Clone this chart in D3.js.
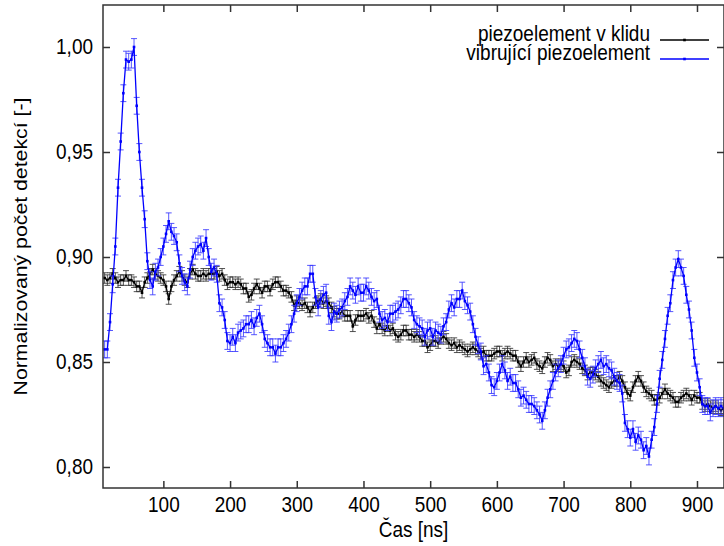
<!DOCTYPE html>
<html>
<head>
<meta charset="utf-8">
<script src="https://cdn.jsdelivr.net/npm/d3@7"></script>
<style>
  body { margin: 0; background: #fff; }
  text { font-family: "Liberation Sans", Arial, sans-serif; fill: #000; }
</style>
</head>
<body>
<div id="chart"></div>
<script>
// time bins (ns): first bin and bin width
const timeStart = 12;
const timeStep = 4;

// piezoelement v klidu
const restValues = [
  0.890,0.889,0.890,0.892,0.890,0.888,0.889,0.889,0.891,0.889,0.889,0.888,
  0.886,0.886,0.883,0.888,0.890,0.892,0.894,0.892,0.891,0.890,0.889,0.886,
  0.880,0.886,0.889,0.891,0.893,0.891,0.889,0.888,0.892,0.894,0.892,0.891,
  0.891,0.892,0.891,0.892,0.892,0.892,0.893,0.891,0.892,0.889,0.887,0.888,
  0.888,0.887,0.888,0.887,0.885,0.885,0.881,0.882,0.885,0.887,0.885,0.883,
  0.886,0.886,0.884,0.887,0.888,0.888,0.886,0.884,0.884,0.883,0.881,0.877,
  0.879,0.878,0.877,0.878,0.876,0.874,0.876,0.878,0.879,0.880,0.878,0.879,
  0.878,0.876,0.874,0.873,0.873,0.874,0.872,0.872,0.872,0.867,
  0.870,0.872,0.872,0.872,0.873,0.871,0.872,0.869,0.866,0.868,0.866,0.865,
  0.867,0.865,0.866,0.863,0.862,0.863,0.865,0.865,0.863,0.863,0.862,0.863,
  0.862,0.860,0.860,0.857,0.858,0.860,0.860,0.859,0.861,0.862,0.861,0.859,
  0.858,0.859,0.857,0.858,0.857,0.856,0.855,0.856,0.857,0.856,0.855,0.854,
  0.855,0.853,0.853,0.853,0.854,0.855,0.855,0.853,0.854,0.855,0.854,0.853,
  0.853,0.850,0.848,0.850,0.852,0.850,0.851,0.852,0.849,0.848,0.847,0.850,
  0.852,0.851,0.848,0.849,0.848,0.849,0.848,0.845,0.846,0.850,0.851,0.850,
  0.849,0.847,0.846,0.844,0.845,0.845,0.844,0.843,0.841,0.840,
  0.839,0.838,0.840,0.841,0.841,0.843,0.841,0.838,0.835,0.834,0.838,0.841,
  0.843,0.841,0.838,0.836,0.835,0.834,0.832,0.832,0.833,0.835,0.837,0.835,
  0.834,0.833,0.831,0.831,0.833,0.834,0.835,0.834,0.832,0.834,0.833,0.833,
  0.830,0.829,0.830,0.829,0.828,0.829,0.828,0.827,0.828
];

// vibrující piezoelement
const vibValues = [
  0.856,0.856,0.869,0.887,0.905,0.933,0.955,0.978,0.994,0.993,0.994,1.000,
  0.972,0.950,0.933,0.918,0.898,0.889,0.886,0.893,0.895,0.900,0.905,0.911,
  0.917,0.912,0.910,0.907,0.897,0.891,0.888,0.886,0.894,0.900,0.903,0.905,
  0.906,0.903,0.909,0.900,0.893,0.895,0.892,0.878,0.876,0.870,0.860,0.859,
  0.862,0.859,0.864,0.865,0.866,0.868,0.868,0.870,0.867,0.871,0.873,0.868,
  0.861,0.859,0.857,0.857,0.854,0.857,0.857,0.859,0.861,0.864,0.868,0.873,
  0.878,0.881,0.884,0.886,0.886,0.892,0.892,0.881,0.876,0.880,0.882,0.883,
  0.872,0.869,0.874,0.873,0.875,0.876,0.879,0.881,0.886,0.884,
  0.882,0.886,0.883,0.883,0.886,0.884,0.881,0.879,0.880,0.873,0.870,0.871,
  0.869,0.873,0.873,0.874,0.875,0.877,0.880,0.880,0.878,0.876,0.870,0.868,
  0.867,0.866,0.862,0.865,0.866,0.862,0.865,0.864,0.863,0.867,0.869,0.875,
  0.878,0.876,0.880,0.880,0.884,0.879,0.877,0.874,0.868,0.862,0.858,0.855,
  0.848,0.849,0.845,0.839,0.838,0.841,0.845,0.849,0.846,0.841,0.843,0.840,
  0.840,0.837,0.833,0.834,0.832,0.830,0.830,0.829,0.827,0.825,0.822,0.827,
  0.833,0.837,0.841,0.845,0.847,0.849,0.853,0.856,0.857,0.859,0.861,0.860,
  0.856,0.852,0.848,0.843,0.842,0.844,0.847,0.849,0.851,0.848,
  0.849,0.847,0.846,0.843,0.841,0.840,0.835,0.821,0.818,0.814,0.818,0.812,
  0.815,0.813,0.808,0.810,0.805,0.813,0.819,0.830,0.842,0.851,0.861,0.872,
  0.878,0.889,0.895,0.899,0.895,0.891,0.882,0.875,0.865,0.852,0.845,0.838,
  0.830,0.829,0.829,0.826,0.828,0.829,0.828,0.829,0.828
];

const restErr = 0.0025;
const vibErr = 0.004;

const xTicks = [100, 200, 300, 400, 500, 600, 700, 800, 900];
const yTicks = [0.80, 0.85, 0.90, 0.95, 1.00];
const seriesNames = ["piezoelement v klidu", "vibrující piezoelement"];
const seriesColors = ["#000000", "#0000ff"];
const errColors = ["#333333", "#3a3aff"];

const width = 724, height = 546;
const plot = { left: 103, right: 724, top: 5, bottom: 488 };
const fontSize = 19, stretchY = 1.12;

const svg = d3.select("#chart").append("svg")
  .attr("width", width).attr("height", height);

const x = d3.scaleLinear().domain([9.5, 940.5]).range([plot.left, plot.right]);
const y = d3.scaleLinear().domain([0.79, 1.02]).range([plot.bottom, plot.top]);

const fmt = (d) => d3.format(".2f")(d).replace(".", ",");

// tall glyphs, like the original terminal font
function stretch(sel) {
  sel.each(function () {
    const t = d3.select(this);
    const tx = +t.attr("x") || 0, ty = +t.attr("y") || 0;
    t.attr("transform", `translate(${tx},${ty}) scale(1,${stretchY}) translate(${-tx},${-ty})`);
  });
}

const series = [restValues, vibValues].map((vals, k) => ({
  name: seriesNames[k],
  color: seriesColors[k],
  errColor: errColors[k],
  err: k === 0 ? restErr : vibErr,
  points: vals.map((v, i) => ({ t: timeStart + i * timeStep, v }))
}));

svg.append("defs").append("clipPath").attr("id", "clip")
  .append("rect")
  .attr("x", plot.left).attr("y", plot.top)
  .attr("width", plot.right - plot.left).attr("height", plot.bottom - plot.top);

const body = svg.append("g").attr("clip-path", "url(#clip)");

series.forEach((s) => {
  const g = body.append("g");

  // error bars
  g.selectAll(".err")
    .data(s.points)
    .join("path")
    .attr("fill", "none")
    .attr("stroke", s.errColor)
    .attr("stroke-width", 1)
    .attr("stroke-opacity", 0.85)
    .attr("d", (d) => {
      const cx = x(d.t), y0 = y(d.v - s.err), y1 = y(d.v + s.err);
      return `M${cx},${y0}V${y1}M${cx - 3},${y0}H${cx + 3}M${cx - 3},${y1}H${cx + 3}`;
    });

  g.append("path")
    .datum(s.points)
    .attr("fill", "none")
    .attr("stroke", s.color)
    .attr("stroke-width", 1.3)
    .attr("d", d3.line().x((d) => x(d.t)).y((d) => y(d.v)));

  g.selectAll(".pt")
    .data(s.points)
    .join("rect")
    .attr("x", (d) => x(d.t) - 1.3)
    .attr("y", (d) => y(d.v) - 1.3)
    .attr("width", 2.6).attr("height", 2.6)
    .attr("fill", s.color);
});

// frame
svg.append("rect")
  .attr("x", plot.left).attr("y", plot.top)
  .attr("width", plot.right - plot.left).attr("height", plot.bottom - plot.top)
  .attr("fill", "none").attr("stroke", "#333").attr("stroke-width", 1.5);

// bottom axis with labels, top axis mirrored ticks only
const axisStyle = (g) => {
  g.select(".domain").remove();
  g.selectAll("line").attr("stroke", "#333").attr("stroke-width", 1.5);
};

svg.append("g")
  .attr("transform", `translate(0,${plot.bottom})`)
  .call(d3.axisBottom(x).tickValues(xTicks).tickSize(-7).tickPadding(9))
  .call(axisStyle)
  .selectAll("text")
  .attr("font-size", fontSize).attr("fill", "#000")
  .attr("font-family", null)
  .call(stretch);

svg.append("g")
  .attr("transform", `translate(0,${plot.top})`)
  .call(d3.axisTop(x).tickValues(xTicks).tickSize(-7).tickFormat(""))
  .call(axisStyle);

svg.append("g")
  .attr("transform", `translate(${plot.left},0)`)
  .call(d3.axisLeft(y).tickValues(yTicks).tickSize(-7).tickPadding(10).tickFormat(fmt))
  .call(axisStyle)
  .selectAll("text")
  .attr("font-size", fontSize).attr("fill", "#000")
  .attr("font-family", null)
  .call(stretch);

svg.append("g")
  .attr("transform", `translate(${plot.right},0)`)
  .call(d3.axisRight(y).tickValues(yTicks).tickSize(-7).tickFormat(""))
  .call(axisStyle);

// axis titles
svg.append("text")
  .attr("x", (plot.left + plot.right) / 2).attr("y", 537)
  .attr("text-anchor", "middle").attr("font-size", fontSize)
  .text("Čas [ns]")
  .call(stretch);

svg.append("text")
  .attr("transform", `translate(27,${(plot.top + plot.bottom) / 2}) rotate(-90) scale(${stretchY},1)`)
  .attr("text-anchor", "middle").attr("font-size", fontSize)
  .text("Normalizovaný počet detekcí [-]");

// legend
const legend = svg.append("g");
series.forEach((s, k) => {
  const ly = 40 + k * 19;
  legend.append("text")
    .attr("x", 650).attr("y", ly + 1)
    .attr("text-anchor", "end").attr("font-size", fontSize)
    .text(s.name)
    .call(stretch);
  legend.append("line")
    .attr("x1", 660).attr("x2", 709).attr("y1", ly).attr("y2", ly)
    .attr("stroke", s.color).attr("stroke-width", 1.3);
  legend.append("rect")
    .attr("x", 684.5 - 1.3).attr("y", ly - 1.3)
    .attr("width", 2.6).attr("height", 2.6)
    .attr("fill", s.color);
});
</script>
</body>
</html>
